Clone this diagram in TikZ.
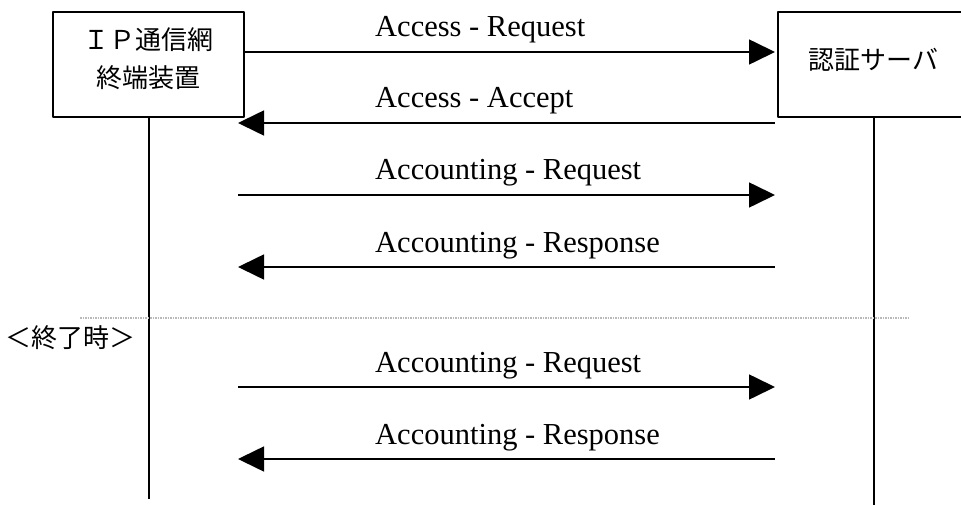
\documentclass[tikz,border=0pt]{standalone}
\usepackage{fontspec}
\setmainfont{Liberation Serif}
\newfontfamily\jpfont{Noto Sans CJK JP}
\usetikzlibrary{arrows.meta}
\begin{document}
\begin{tikzpicture}[x=1pt, y=-1pt, line join=round, >={Triangle[length=26pt,width=25pt]},
	box/.style={draw, line width=2pt, minimum width=191pt, minimum height=105pt, inner sep=0pt},
	jp/.style={font=\jpfont\fontsize{26}{38}\selectfont, align=center, inner sep=0pt},
	msg/.style={->, line width=1.6pt},
	lbl/.style={anchor=base west, inner sep=0pt, font=\fontsize{30.5}{34}\selectfont}]
	\useasboundingbox (0,0) rectangle (961,505);
	\clip (0,0) rectangle (961,505);
	% boxes and lifelines
	\node[box] (term) at (148.5,64.5) {};
	\node[jp] (termtxt) at (148.5,59) {ＩＰ通信網\\終端装置};
	\node[box] (srv) at (873.5,64.5) {};
	\node[jp] (srvtxt) at (873.5,60) {認証サーバ};
	\coordinate (termend) at (148.5,499);
	\coordinate (srvend) at (873.5,505);
	\draw[line width=2pt] (term.south) -- (termend);
	\draw[line width=2pt] (srv.south) -- (srvend);
	% message ends
	\foreach \n/\y in {1/52,2/123,3/195,4/267,5/387,6/459}{
		\coordinate (L\n) at (238,\y);
		\coordinate (R\n) at (775,\y);
	}
	\coordinate (L1) at (244,52);
	% messages
	\draw[msg] (L1) -- (R1);
	\node[lbl] (m1) at (375,37) {Access - Request};
	\draw[msg] (R2) -- (L2);
	\node[lbl] (m2) at (375,108) {Access - Accept};
	\draw[msg] (L3) -- (R3);
	\node[lbl] (m3) at (375,180) {Accounting - Request};
	\draw[msg] (R4) -- (L4);
	\node[lbl] (m4) at (375,252) {Accounting - Response};
	% end of session
	\draw[gray!55, line width=1.8pt, dash pattern=on 1.5pt off 1pt] (80,318) -- (908,318);
	\node[jp, anchor=west] (fin) at (5,338) {＜終了時＞};
	\draw[msg] (L5) -- (R5);
	\node[lbl] (m5) at (375,372) {Accounting - Request};
	\draw[msg] (R6) -- (L6);
	\node[lbl] (m6) at (375,444) {Accounting - Response};
\end{tikzpicture}
\end{document}
